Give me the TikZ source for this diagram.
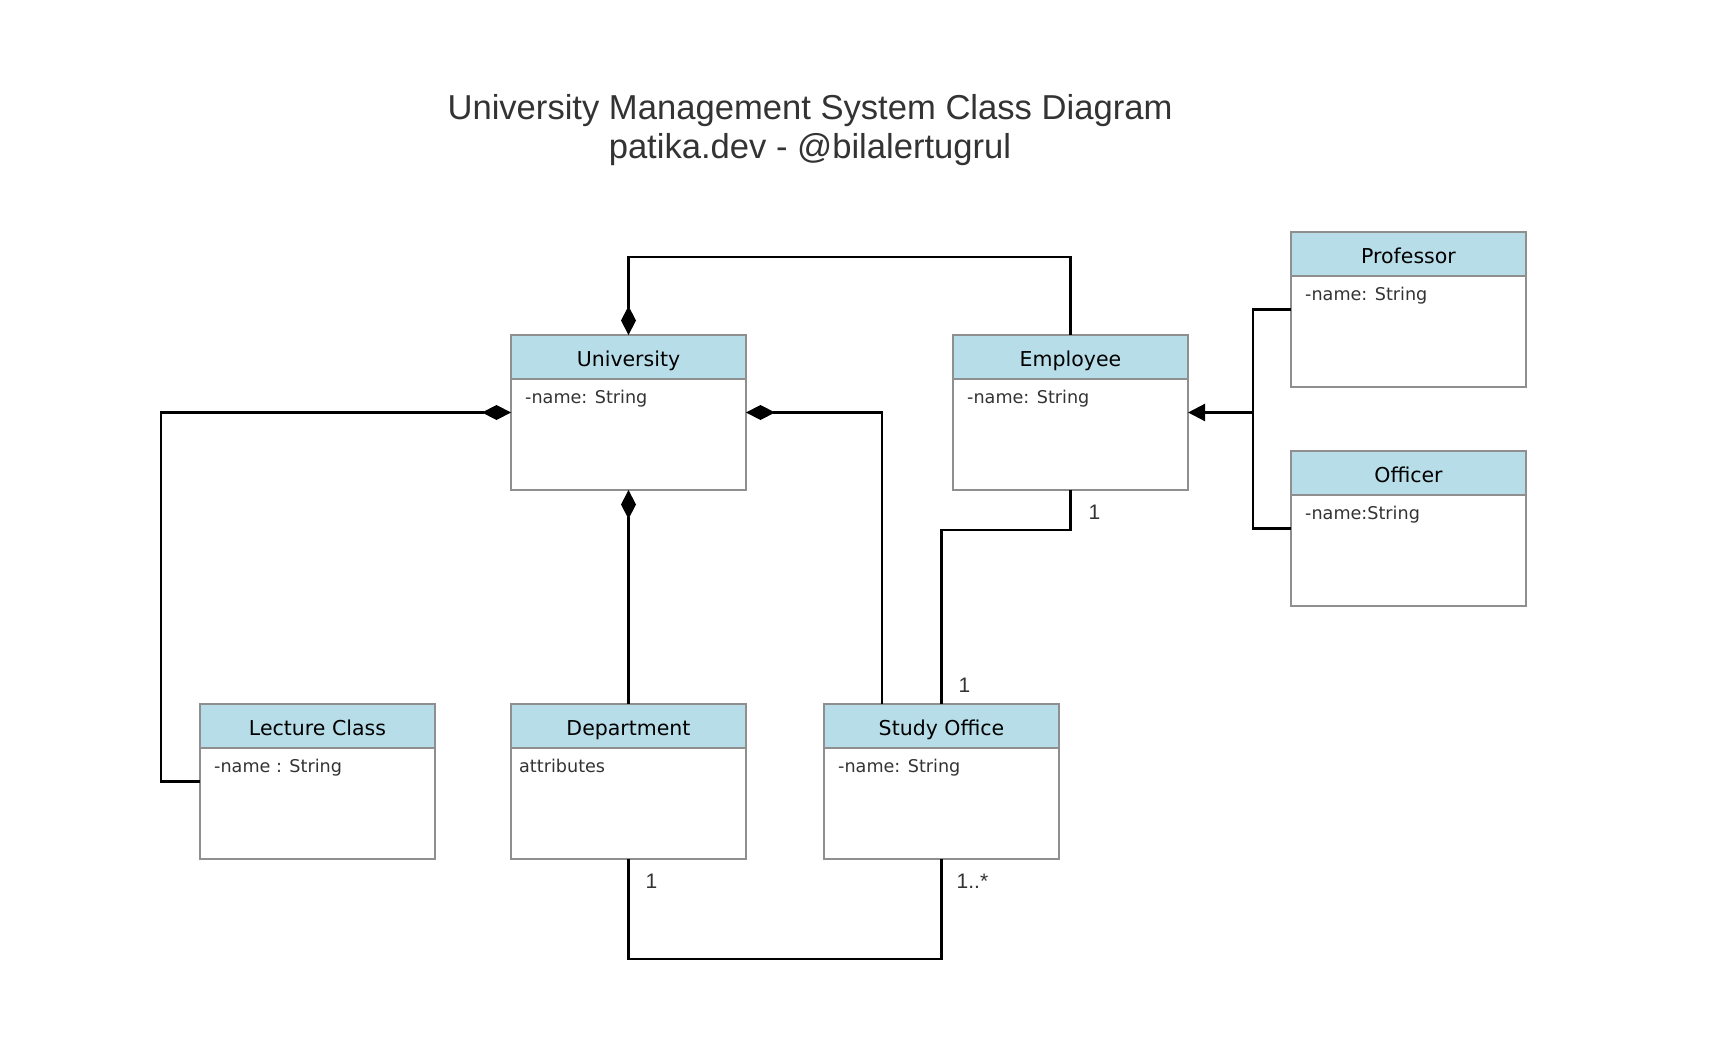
\documentclass[tikz,border=0pt]{standalone}
\usepackage{fontspec}
\usetikzlibrary{arrows.meta,calc}
\newfontfamily\titlefont{Liberation Sans}
\newfontfamily\clsfont{DejaVu Sans}
\definecolor{hdrblue}{HTML}{B7DDE8}
\definecolor{boxgray}{HTML}{8F8F8F}
\definecolor{txtgray}{HTML}{333333}
\tikzset{
  classbox/.style={draw=boxgray, line width=2pt, fill=white, rectangle, inner sep=0pt, outer sep=0pt,
    minimum width=235pt, minimum height=155pt, anchor=north west},
  hdr/.style={draw=boxgray, line width=2pt, fill=hdrblue, rectangle, inner sep=0pt, outer sep=0pt,
    minimum width=235pt, minimum height=44pt, anchor=north west, text height=20pt, text depth=2pt,
    font=\clsfont\fontsize{20.5}{24}\selectfont, text=black},
  attr/.style={anchor=base west, inner sep=0pt, font=\clsfont\fontsize{17.6}{21}\selectfont, text=txtgray},
  conn/.style={draw=black, line width=2.2pt},
  comp/.style={conn, -{Diamond[length=29pt,width=15pt]}},
  gen/.style={conn, -{Triangle[length=17pt,width=17pt]}},
  mult/.style={anchor=base west, inner sep=0pt, font=\titlefont\fontsize{21}{24}\selectfont, text=txtgray},
  ttl/.style={align=center, inner sep=0pt, font=\titlefont\fontsize{34.6}{39}\selectfont, text=txtgray}
}
\begin{document}
\begin{tikzpicture}[x=1pt,y=-1pt]
\useasboundingbox (0,0) rectangle (1732,1062);
\fill[white] (0,0) rectangle (1732,1062);

\node[ttl] (title) at (810,130.5) {University Management System Class Diagram\\patika.dev - @bilalertugrul};

% classes
\node[classbox] (uni) at (511,335) {};
\node[hdr] (uni-h) at (uni.north west) {University};
\node[attr] (uni-a) at ($(uni.north west)+(14,68.5)$) {-name: String};

\node[classbox] (emp) at (953,335) {};
\node[hdr] (emp-h) at (emp.north west) {Employee};
\node[attr] (emp-a) at ($(emp.north west)+(14,68.5)$) {-name: String};

\node[classbox] (prof) at (1291,232) {};
\node[hdr] (prof-h) at (prof.north west) {Professor};
\node[attr] (prof-a) at ($(prof.north west)+(14,68.5)$) {-name: String};

\node[classbox] (off) at (1291,451) {};
\node[hdr] (off-h) at (off.north west) {Officer};
\node[attr] (off-a) at ($(off.north west)+(14,68.5)$) {-name:String};

\node[classbox] (lec) at (200,704) {};
\node[hdr] (lec-h) at (lec.north west) {Lecture Class};
\node[attr] (lec-a) at ($(lec.north west)+(14,68.5)$) {-name : String};

\node[classbox] (dep) at (511,704) {};
\node[hdr] (dep-h) at (dep.north west) {Department};
\node[attr] (dep-a) at ($(dep.north west)+(8,68.5)$) {attributes};

\node[classbox] (so) at (824,704) {};
\node[hdr] (so-h) at (so.north west) {Study Office};
\node[attr] (so-a) at ($(so.north west)+(14,68.5)$) {-name: String};

% helper coordinates
\coordinate (sotop) at ($(so.north west)+(58,0)$);
\coordinate (gj) at ($(emp.east)+(66,0)$);

% compositions to University
\draw[comp] (emp.north) -- ($(emp.north)+(0,-78)$) -| (uni.north);
\draw[comp] (lec.west) -- ++(-39,0) |- (uni.west);
\draw[comp] (sotop) |- (uni.east);
\draw[comp] (dep.north) -- (uni.south);

% associations
\draw[conn] (emp.south) -- ++(0,40) -| (so.north);
\draw[conn] (dep.south) -- ++(0,100) -| (so.south);

% generalization
\draw[conn] (prof.west) -- ++(-38,0) |- (off.west);
\draw[gen] (gj) -- (emp.east);

% multiplicities
\node[mult] (m1) at ($(emp.south)+(18,29)$) {1};
\node[mult] (m2) at ($(so.north)+(17,-12)$) {1};
\node[mult] (m3) at ($(dep.south)+(17,29)$) {1};
\node[mult] (m4) at ($(so.south)+(15,29)$) {1..*};
\end{tikzpicture}
\end{document}
